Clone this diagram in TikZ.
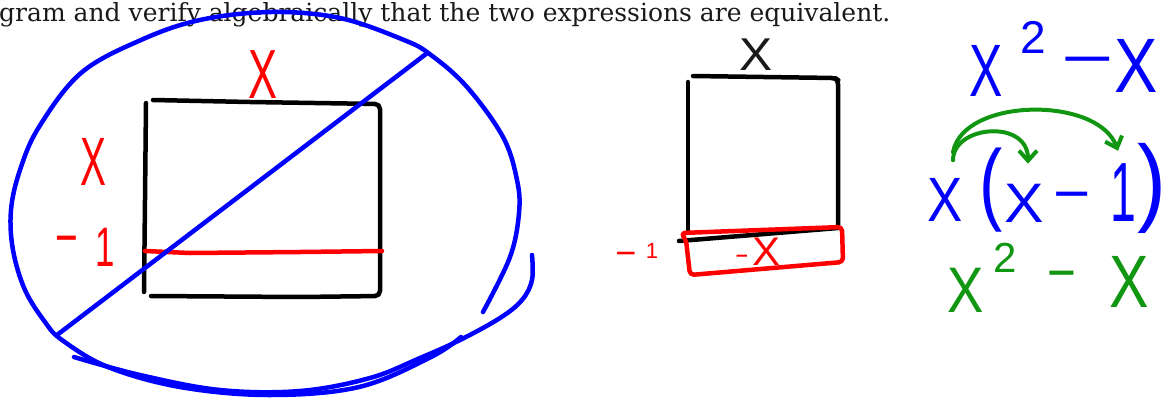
\documentclass[tikz,border=0pt]{standalone}
\usepackage{fontspec}
\setmainfont{DejaVu Serif}
\newfontfamily\hand{Liberation Sans}
\usetikzlibrary{arrows.meta}
\definecolor{pblue}{RGB}{0,0,255}
\definecolor{pred}{RGB}{255,0,0}
\definecolor{pgreen}{RGB}{17,150,17}
\definecolor{ink}{RGB}{25,25,25}
\tikzset{
  pen/.style={line width=4.5pt, line cap=round, line join=round},
  hw/.style={inner sep=0pt, font=\hand\fontsize{#1}{#1}\selectfont},
  garrow/.style={pen, draw=pgreen, line width=4pt, -{Straight Barb[length=10pt,width=18pt]}},
}
\begin{document}
\begin{tikzpicture}[x=1pt,y=-1pt]
\useasboundingbox (0,0) rectangle (1167,397);
% header text
\node[anchor=base west, inner sep=0pt, text=ink, font=\fontsize{25}{25}\selectfont] (hdr) at (-1,21) {gram and verify algebraically that the two expressions are equivalent.};

% ---------- left diagram ----------
\draw[pen, black] (146,103) -- (145,200) -- (144,292);
\draw[pen, black, rounded corners=5pt] (153,100) -- (250,102) -- (380,104) -- (380,200) -- (380,296) -- (300,297) -- (151,296);
\draw[pen, pred] (145,251) -- (190,253) -- (300,252) -- (382,251);
\node[hw=58, text=pred, xscale=0.75, yscale=1.2] (lx1) at (263,75) {X};
\node[hw=58, text=pred, xscale=0.67, yscale=1.18] (lx2) at (93,162) {X};
\node[hw=58, text=pred, xscale=0.67] (lm) at (67,247) {\char"2212};
\node[hw=58, text=pred, xscale=0.6, yscale=0.96] (l1) at (105,247) {1};
% blue cross-out
\draw[pen, pblue] (57,335) -- (426,54);
\draw[pen, pblue] plot[smooth, tension=0.6] coordinates {
  (483,312) (510,257) (519,213) (517,180) (503,137) (467,87) (431,55) (404,40)
  (340,18) (271,12) (200,20) (141,40) (81,73) (39,127) (20,170) (11,210) (13,250)
  (25,290) (45,322) (62,340) (108,367) (180,387) (269,395) (359,387) (431,357) (461,337)};
\draw[pen, pblue] plot[smooth, tension=0.6] coordinates {
  (532,255) (532,280) (522,300) (500,318) (460,340) (420,358) (370,378)
  (300,391) (220,390) (140,375) (74,357)};

% ---------- middle diagram ----------
\draw[pen, black] (688,82) -- (688,232);
\draw[pen, black, rounded corners=4pt] (693,76) -- (835,78) -- (838,80) -- (838,226);
\draw[pen, black] (679,241) -- (838,228);
\draw[pen, pred, rounded corners=4pt] (681,233) -- (842,227) -- (843,262) -- (690,275) -- (686,240) -- cycle;
\node[hw=46, text=ink, xscale=1.08] (mx) at (756,55) {X};
\node[hw=40, text=pred, xscale=1.05] (rx) at (766,252) {X};
\node[hw=28, text=pred, xscale=0.77] (rm) at (742,260) {\char"2212};
\node[hw=36, text=pred] (rm1) at (626,259) {\char"2212};
\node[hw=22, text=pred] (r1) at (652,251) {1};

% ---------- right expressions ----------
\node[hw=58, text=pblue, xscale=0.86, yscale=1.28] (t1) at (986,71) {X};
\node[hw=46, text=pblue] (t2) at (1033,37) {2};
\node[hw=58, text=pblue, xscale=1.55] (t3) at (1088,68) {\char"2212};
\node[hw=58, text=pblue, xscale=1.12, yscale=1.33] (t4) at (1136,66) {X};

\node[hw=58, text=pblue, xscale=0.91, yscale=1.08] (x2a) at (945,200) {X};
\node[hw=58, text=pblue, xscale=1.2, yscale=1.56] (lp) at (991,190) {(};
\node[hw=58, text=pblue, xscale=1.02, yscale=0.96] (x2b) at (1024,203) {X};
\node[hw=58, text=pblue, xscale=1.1] (m2) at (1072,203) {\char"2212};
\node[hw=58, text=pblue, xscale=0.8, yscale=1.45] (one) at (1123,193) {1};
\node[hw=58, text=pblue, xscale=1.5, yscale=1.67] (rp) at (1152,188) {)};

\node[hw=58, text=pgreen, xscale=0.94, yscale=1.11] (g1) at (966,290) {X};
\node[hw=42, text=pgreen] (g2) at (1005,258) {2};
\node[hw=58, text=pgreen, xscale=0.85] (g3) at (1062,282) {\char"2212};
\node[hw=58, text=pgreen, xscale=1.02, yscale=1.28] (g4) at (1129,282) {X};

% green distribution arrows
\draw[garrow] ([shift={(8,-18)}]x2a.north) .. controls +(0,-35) and +(0,-45) .. ([shift={(4,-20)}]x2b.north);
\draw[garrow] ([shift={(8,-26)}]x2a.north) .. controls +(10,-55) and +(-20,-55) .. ([shift={(-5,-13)}]one.north);
\end{tikzpicture}
\end{document}
